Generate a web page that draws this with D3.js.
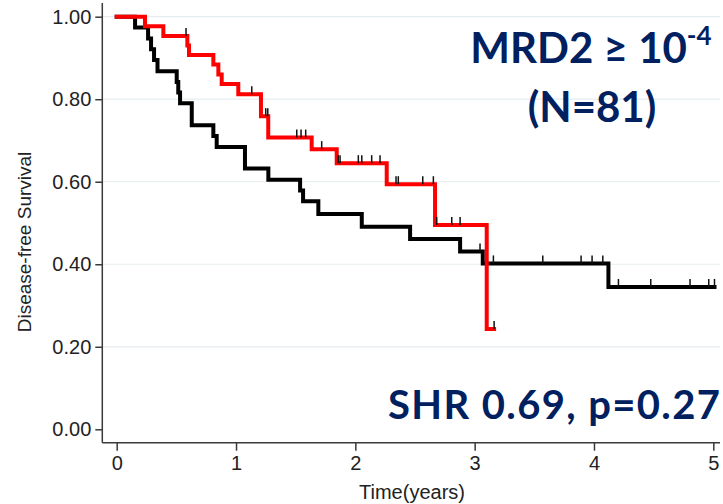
<!DOCTYPE html>
<html>
<head>
<meta charset="utf-8">
<script src="https://cdn.jsdelivr.net/npm/d3@7"></script>
<style>
  html, body { margin: 0; padding: 0; background: #fff; }
  svg { display: block; }
</style>
</head>
<body>
<svg id="chart" width="723" height="504"></svg>
<script>
// Kaplan–Meier steps: time (years) at which the curve drops, and the survival after the drop
const redTimes = [0, 0.237, 0.391, 0.592, 0.606, 0.810, 0.852, 0.880, 1.019, 1.209, 1.270, 1.634, 1.844, 2.263, 2.668, 3.101];
const redSurv  = [1, 0.977, 0.953, 0.930, 0.907, 0.884, 0.860, 0.837, 0.812, 0.759, 0.707, 0.679, 0.645, 0.594, 0.495, 0.243];
const redEnd = 3.163;
const redCensored = [0.581, 1.132, 1.249, 1.266, 1.509, 1.545, 1.584, 1.718, 1.857, 1.872, 2.025, 2.054, 2.137, 2.207,
                     2.341, 2.360, 2.565, 2.654, 2.682, 2.808, 2.878, 3.163];

const blackTimes = [0, 0.154, 0.263, 0.288, 0.313, 0.342, 0.503, 0.516, 0.531, 0.629, 0.810, 0.838, 1.075, 1.271,
                    1.537, 1.562, 1.690, 2.054, 2.459, 2.878, 3.068, 4.121];
const blackSurv  = [1, 0.974, 0.947, 0.921, 0.895, 0.868, 0.842, 0.816, 0.790, 0.737, 0.711, 0.684, 0.632, 0.605,
                    0.579, 0.553, 0.522, 0.491, 0.461, 0.431, 0.402, 0.345];
const blackEnd = 5.01;
const blackCensored = [3.045, 3.157, 3.571, 3.892, 3.984, 4.074, 4.205, 4.476, 4.805, 4.962, 5.01];

const xTicks = [0, 1, 2, 3, 4, 5];
const yTicks = [0, 0.2, 0.4, 0.6, 0.8, 1.0];

const titleMain = "MRD2 \u2265 10";
const titleSup = "-4";
const titleN = "(N=81)";
const statText = "SHR 0.69, p=0.27";
const xLabel = "Time(years)";
const yLabel = "Disease-free Survival";

const svg = d3.select("#chart");
const x = d3.scaleLinear().domain([0, 5]).range([116.7, 713.3]);
const y = d3.scaleLinear().domain([0, 1]).range([429.3, 16.7]);

const axisX0 = 102.3, axisY0 = 442.7, rightEdge = 720;
const axisColor = "#3a3a3a";
const labelFont = "'Liberation Sans', Arial, sans-serif";

// faint horizontal gridlines
svg.append("g").selectAll("line")
  .data(yTicks.filter(d => d > 0))
  .join("line")
  .attr("x1", axisX0).attr("x2", rightEdge)
  .attr("y1", d => y(d)).attr("y2", d => y(d))
  .attr("stroke", "#e6edf1").attr("stroke-width", 1.2);

// y axis
const yAxis = d3.axisLeft(y).tickValues(yTicks).tickFormat(d3.format(".2f")).tickSize(7).tickPadding(4);
const gy = svg.append("g").attr("transform", `translate(${axisX0},0)`).call(yAxis);
gy.select(".domain").remove();
gy.append("line").attr("x1", 0).attr("x2", 0).attr("y1", 3).attr("y2", axisY0)
  .attr("stroke", axisColor).attr("stroke-width", 1.5);
gy.selectAll(".tick line").attr("stroke", axisColor).attr("stroke-width", 1.5);
gy.selectAll(".tick text").attr("font-family", labelFont).attr("font-size", 20).attr("fill", "#222");

// x axis
const xAxis = d3.axisBottom(x).tickValues(xTicks).tickFormat(d3.format("d")).tickSize(8).tickPadding(5);
const gx = svg.append("g").attr("transform", `translate(0,${axisY0})`).call(xAxis);
gx.select(".domain").remove();
gx.append("line").attr("x1", axisX0).attr("x2", rightEdge).attr("y1", 0).attr("y2", 0)
  .attr("stroke", axisColor).attr("stroke-width", 1.5);
gx.selectAll(".tick line").attr("stroke", axisColor).attr("stroke-width", 1.5);
gx.selectAll(".tick text").attr("font-family", labelFont).attr("font-size", 20).attr("fill", "#222");

// axis titles
svg.append("text").text(xLabel)
  .attr("x", (x(0) + x(5)) / 2 - 3).attr("y", 499)
  .attr("text-anchor", "middle").attr("font-family", labelFont).attr("font-size", 20).attr("fill", "#222");
svg.append("text").text(yLabel)
  .attr("transform", `translate(31,242) rotate(-90)`)
  .attr("text-anchor", "middle").attr("font-family", labelFont).attr("font-size", 19).attr("fill", "#222");

// step curves
function stepPoints(times, surv, end) {
  const pts = times.map((t, i) => [t, surv[i]]);
  pts.push([end, surv[surv.length - 1]]);
  return pts;
}
function survAt(times, surv, t) {
  let s = surv[0];
  for (let i = 0; i < times.length; i++) if (times[i] <= t) s = surv[i];
  return s;
}
const line = d3.line().x(d => x(d[0])).y(d => y(d[1])).curve(d3.curveStepAfter);

function drawGroup(times, surv, end, censored, color) {
  const g = svg.append("g");
  g.append("path").datum(stepPoints(times, surv, end))
    .attr("d", line).attr("fill", "none")
    .attr("stroke", color).attr("stroke-width", 4).attr("stroke-linejoin", "miter").attr("stroke-linecap", "square");
  g.selectAll("line.cens").data(censored).join("line")
    .attr("class", "cens")
    .attr("x1", d => x(d)).attr("x2", d => x(d))
    .attr("y1", d => y(survAt(times, surv, d)))
    .attr("y2", d => y(survAt(times, surv, d)) - 8)
    .attr("stroke", "#111").attr("stroke-width", 1.5);
}
drawGroup(blackTimes, blackSurv, blackEnd, blackCensored, "#000000");
drawGroup(redTimes, redSurv, redEnd, redCensored, "#ff0000");

// annotations
const noteFont = "Lato, 'Open Sans', sans-serif";
const navy = "#002060";
const t1 = svg.append("text")
  .attr("x", 591).attr("y", 63)
  .attr("text-anchor", "middle").attr("font-family", noteFont).attr("font-weight", 700)
  .attr("font-size", 42).attr("fill", navy);
t1.append("tspan").text(titleMain);
t1.append("tspan").text(titleSup).attr("font-size", 26).attr("dy", -18);
svg.append("text").text(titleN)
  .attr("x", 592).attr("y", 122)
  .attr("text-anchor", "middle").attr("font-family", noteFont).attr("font-weight", 700)
  .attr("font-size", 42).attr("fill", navy);
svg.append("text").text(statText)
  .attr("x", 388).attr("y", 419)
  .attr("textLength", 332).attr("lengthAdjust", "spacing")
  .attr("font-family", noteFont).attr("font-weight", 700)
  .attr("font-size", 40).attr("fill", navy);
</script>
</body>
</html>
